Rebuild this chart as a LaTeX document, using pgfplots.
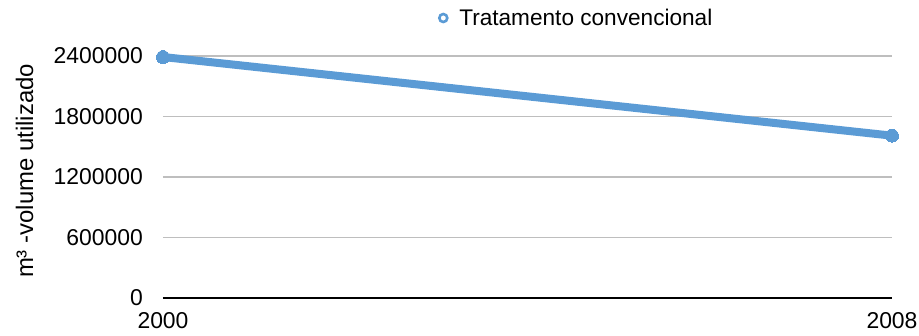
\documentclass[border=0pt]{standalone}
\usepackage{pgfplots}
\pgfplotsset{compat=1.18}
\usepackage{fontspec}
\setmainfont{Liberation Sans}
\definecolor{serieblue}{RGB}{91,155,213}
\definecolor{gridgray}{RGB}{190,190,190}
\begin{document}
\begin{tikzpicture}
\begin{axis}[
  scale only axis,
  width=729bp, height=242bp,
  xmin=2000, xmax=2008,
  ymin=0, ymax=2400000,
  xtick={2000,2008},
  ytick={0,600000,1200000,1800000,2400000},
  scaled y ticks=false,
  /pgf/number format/.cd, 1000 sep={}, fixed, assume math mode=true,
  /pgfplots/.cd,
  axis x line*=bottom,
  axis y line*=left,
  y axis line style={draw=none},
  x axis line style={black, line width=1.6bp, -},
  major tick length=0pt,
  ymajorgrids,
  grid style={gridgray, line width=1.8bp},
  tick label style={font=\fontsize{23}{27}\selectfont},
  yticklabel style={anchor=east, inner sep=0pt, xshift=-20bp},
  xticklabel style={anchor=north, inner sep=0pt, yshift=-14bp},
  every axis y label/.style={at={(axis description cs:-0.19,0.525)}, rotate=90, anchor=center,
                             font=\fontsize{24}{28}\selectfont},
  ylabel={m³ -volume utilizado},
  legend style={draw=none, fill=none, inner sep=0pt, at={(axis description cs:0.376,1.157)}, anchor=west,
                font=\fontsize{22.7}{27}\selectfont},
  legend image code/.code={\path[draw=none, fill=none] (0,0) -- (20bp,0);
                           \draw[serieblue, line width=2.6bp, fill=white] (6bp,0) circle (4bp);},
  clip=false,
]
\addplot[serieblue, line width=8bp, mark=*, mark size=6.5bp,
         mark options={serieblue, line width=0pt}]
  coordinates {(2000,2390000) (2008,1610000)};
\addlegendentry{Tratamento convencional}
\end{axis}
\path[use as bounding box] (current axis.south west) ++(-163bp,-38bp) rectangle ++(919bp,336bp);
\end{tikzpicture}
\end{document}
